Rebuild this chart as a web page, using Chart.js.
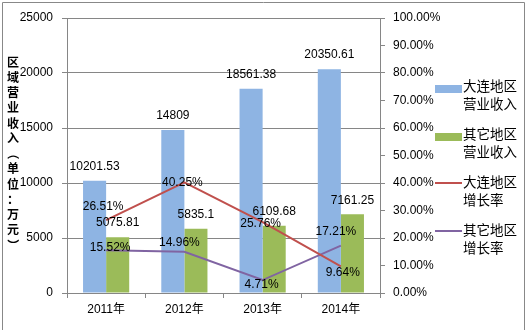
<!DOCTYPE html>
<html>
<head>
<meta charset="utf-8">
<script src="https://cdn.jsdelivr.net/npm/chart.js@4/dist/chart.umd.min.js"></script>
<style>
  html, body { margin: 0; padding: 0; background: #fff; }
  #wrap { width: 528px; height: 330px; }
</style>
</head>
<body>
<div id="wrap"><canvas id="c" width="528" height="330"></canvas></div>
<script>
// Regional operating revenue (万元) and growth rates (%), 2011–2014
const years = ['2011年', '2012年', '2013年', '2014年'];
const dalianRevenue = [10201.53, 14809, 18561.38, 20350.61];
const otherRevenue = [5075.81, 5835.1, 6109.68, 7161.25];
const dalianGrowth = [26.51, 40.25, 25.76, 9.64];
const otherGrowth = [15.52, 14.96, 4.71, 17.21];
const seriesNames = [['大连地区', '营业收入'], ['其它地区', '营业收入'], ['大连地区', '增长率'], ['其它地区', '增长率']];
const axisTitle = '区域营业收入（单位：万元）';

const NUM_FONT = '"Liberation Sans", "Noto Sans CJK SC", sans-serif';
const CJK_FONT = '"Noto Sans CJK SC", sans-serif';
const GRID = '#868686';

// label placement tweaks for the growth-rate labels, [dx, dy] from the point
const growthLabelNudge = [
  [[-3, -13], [-2, 0], [-2, 2], [2, 6]],
  [[4, -3], [-5, -9], [-1, 5], [-5, -14]]
];

const decorations = {
  id: 'decorations',
  afterDatasetsDraw(chart) {
    const ctx = chart.ctx;
    ctx.save();
    ctx.fillStyle = '#000';
    ctx.font = '12px ' + NUM_FONT;
    ctx.textAlign = 'center';
    ctx.textBaseline = 'middle';
    // bar value labels
    [0, 1].forEach(di => {
      const ds = chart.data.datasets[di];
      chart.getDatasetMeta(di).data.forEach((el, i) => {
        ctx.fillText(String(ds.data[i]), el.x, el.y - 14);
      });
    });
    // growth-rate labels
    [2, 3].forEach((di, k) => {
      const ds = chart.data.datasets[di];
      chart.getDatasetMeta(di).data.forEach((el, i) => {
        const n = growthLabelNudge[k][i];
        ctx.fillText(ds.data[i].toFixed(2) + '%', el.x + n[0], el.y + n[1]);
      });
    });
    ctx.restore();
  },
  afterDraw(chart) {
    const ctx = chart.ctx;
    ctx.save();
    // outer frame
    ctx.strokeStyle = '#888';
    ctx.lineWidth = 1;
    ctx.beginPath();
    ctx.moveTo(2.5, 335); ctx.lineTo(2.5, 2.5); ctx.lineTo(524.5, 2.5); ctx.lineTo(524.5, 335);
    ctx.stroke();

    // vertical axis title, one character per row
    ctx.fillStyle = '#000';
    ctx.font = 'bold 12px ' + CJK_FONT;
    ctx.textAlign = 'center';
    ctx.textBaseline = 'middle';
    Array.from(axisTitle).forEach((ch, i) => {
      const y = 62 + i * 15.25;
      if (ch === '（' || ch === '）') {
        ctx.save();
        ctx.translate(13, y);
        ctx.rotate(Math.PI / 2);
        ctx.fillText(ch, 0, 0);
        ctx.restore();
      } else {
        ctx.fillText(ch, 13, y);
      }
    });

    // legend
    ctx.font = '13.5px ' + CJK_FONT;
    ctx.textAlign = 'left';
    chart.data.datasets.forEach((ds, i) => {
      const y = 86 + i * 48;
      if (ds.type === 'line') {
        ctx.strokeStyle = ds.borderColor;
        ctx.lineWidth = 2;
        ctx.beginPath();
        ctx.moveTo(435, y + 1);
        ctx.lineTo(462, y + 1);
        ctx.stroke();
      } else {
        ctx.fillStyle = ds.backgroundColor;
        ctx.fillRect(435, y - 1, 27, 8);
      }
      ctx.fillStyle = '#000';
      seriesNames[i].forEach((line, j) => ctx.fillText(line, 463, y + j * 17.5));
    });
    ctx.restore();
  }
};

new Chart(document.getElementById('c'), {
  data: {
    labels: years,
    datasets: [
      { type: 'bar', label: seriesNames[0].join(''), data: dalianRevenue, backgroundColor: '#8EB4E3', yAxisID: 'y', order: 2 },
      { type: 'bar', label: seriesNames[1].join(''), data: otherRevenue, backgroundColor: '#9BBB59', yAxisID: 'y', order: 2 },
      { type: 'line', label: seriesNames[2].join(''), data: dalianGrowth, borderColor: '#C0504D', backgroundColor: '#C0504D', borderWidth: 2, pointRadius: 0, yAxisID: 'y1', order: 1 },
      { type: 'line', label: seriesNames[3].join(''), data: otherGrowth, borderColor: '#8064A2', backgroundColor: '#8064A2', borderWidth: 2, pointRadius: 0, yAxisID: 'y1', order: 1 }
    ]
  },
  options: {
    responsive: false,
    animation: false,
    layout: { padding: { left: 0, right: 0, top: 18, bottom: 0 } },
    datasets: { bar: { categoryPercentage: 0.59, barPercentage: 1.0 } },
    plugins: { legend: { display: false }, tooltip: { enabled: false } },
    scales: {
      x: {
        offset: true,
        afterFit(s) { s.height = 37; },
        grid: { display: true, drawOnChartArea: false, drawTicks: true, tickLength: 5, color: GRID, offset: true },
        border: { display: true, color: GRID },
        ticks: { color: '#000', font: { size: 12, family: NUM_FONT }, padding: 4 }
      },
      y: {
        position: 'left',
        min: 0, max: 25000,
        afterFit(s) { s.width = 67; },
        ticks: { stepSize: 5000, color: '#000', font: { size: 12, family: NUM_FONT }, padding: 9,
                 callback: v => String(v) },
        grid: { color: GRID, tickLength: 5 },
        border: { display: true, color: GRID }
      },
      y1: {
        position: 'right',
        min: 0, max: 100,
        afterFit(s) { s.width = 148; },
        ticks: { stepSize: 10, color: '#000', font: { size: 12, family: NUM_FONT }, padding: 8,
                 callback: v => v.toFixed(2) + '%' },
        grid: { drawOnChartArea: false, color: GRID, tickLength: 5 },
        border: { display: true, color: GRID }
      }
    }
  },
  plugins: [decorations]
});
</script>
</body>
</html>
